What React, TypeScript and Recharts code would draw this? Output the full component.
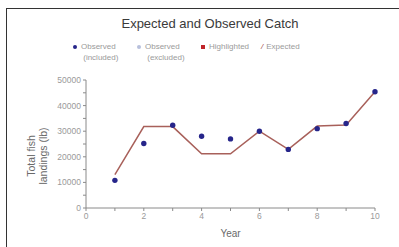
import { ComposedChart, Line, Scatter, XAxis, YAxis } from 'recharts';

const years = [1, 2, 3, 4, 5, 6, 7, 8, 9, 10];
const observed = [10800, 25200, 32300, 28000, 27000, 30000, 22900, 31000, 33000, 45400];
const expected = [13000, 31800, 31800, 21200, 21200, 30000, 22900, 32000, 32400, 45400];
const yTicks = [0, 5000, 10000, 15000, 20000, 25000, 30000, 35000, 40000, 45000, 50000];
const xTicks = [0, 1, 2, 3, 4, 5, 6, 7, 8, 9, 10];

const data = years.map((y, i) => ({ year: y, observed: observed[i], expected: expected[i] }));

const font = 'Arial, "Liberation Sans", sans-serif';
const axisColor = '#8a8a8a';
const tickColor = '#9a9a9a';

const legendText = { fontSize: 8, color: '#9a9a9a', lineHeight: '11px' } as const;

function Dot(props: any) {
  const { cx, cy } = props;
  if (cx == null || cy == null) return null;
  return <circle cx={cx} cy={cy} r={2.7} fill="#26258a" />;
}

export default function App() {
  return (
    <div style={{ position: 'fixed', left: 0, top: 0, width: 399, height: 247, background: '#fff', fontFamily: font }}>
      <div
        style={{
          position: 'absolute',
          left: 6,
          top: 8,
          width: 393,
          height: 239,
          borderTop: '1.5px solid #333',
          borderLeft: '1.5px solid #333',
        }}
      />
      <div style={{ position: 'absolute', left: 80, top: 16, width: 260, textAlign: 'center', fontSize: 13, color: '#3a3a3a' }}>
        Expected and Observed Catch
      </div>
      <div style={{ position: 'absolute', left: 73, top: 41, display: 'flex', ...legendText }}>
        <div style={{ width: 64, display: 'flex' }}>
          <span style={{ width: 4, height: 4, borderRadius: 2, background: '#26258a', marginTop: 4, marginRight: 4 }} />
          <span>Observed<br />&nbsp;(included)</span>
        </div>
        <div style={{ width: 64, display: 'flex' }}>
          <span style={{ width: 4, height: 4, borderRadius: 2, background: '#b8c0dc', marginTop: 4, marginRight: 4 }} />
          <span>Observed<br />&nbsp;(excluded)</span>
        </div>
        <div style={{ width: 60, display: 'flex' }}>
          <span style={{ width: 4, height: 4, background: '#c0242a', marginTop: 4, marginRight: 4 }} />
          <span>Highlighted</span>
        </div>
        <div style={{ display: 'flex' }}>
          <span style={{ color: '#a0453f', marginRight: 3, fontStyle: 'italic' }}>/</span>
          <span>Expected</span>
        </div>
      </div>
      <div
        style={{
          position: 'absolute',
          left: 37,
          top: 144,
          width: 100,
          marginLeft: -50,
          textAlign: 'center',
          transform: 'rotate(-90deg)',
          fontSize: 10.5,
          lineHeight: '12px',
          color: '#6a6a6a',
        }}
      >
        Total fish
        <br />
        landings (lb)
      </div>
      <div style={{ position: 'absolute', left: 0, top: 0 }}>
        <ComposedChart width={399} height={247} data={data} margin={{ top: 80, right: 24, left: 36, bottom: 14 }}>
          <XAxis
            dataKey="year"
            type="number"
            domain={[0, 10]}
            ticks={xTicks}
            interval={0}
            tickFormatter={(v: number) => (v % 2 === 0 ? `${v}` : '')}
            stroke={axisColor}
            tick={{ fontSize: 8.5, fill: tickColor }}
            tickSize={3}
            height={25}
            label={{ value: 'Year', position: 'insideBottom', offset: -4, fontSize: 10, fill: '#6a6a6a' }}
          />
          <YAxis
            type="number"
            domain={[0, 50000]}
            ticks={yTicks}
            interval={0}
            tickFormatter={(v: number) => (v % 10000 === 0 ? `${v}` : '')}
            stroke={axisColor}
            tick={{ fontSize: 8.5, fill: tickColor }}
            tickSize={3}
            width={50}
          />
          <Line
            dataKey="expected"
            type="linear"
            stroke="#a8605a"
            strokeWidth={1.5}
            dot={false}
            isAnimationActive={false}
          />
          <Scatter dataKey="observed" shape={<Dot />} isAnimationActive={false} />
        </ComposedChart>
      </div>
    </div>
  );
}
